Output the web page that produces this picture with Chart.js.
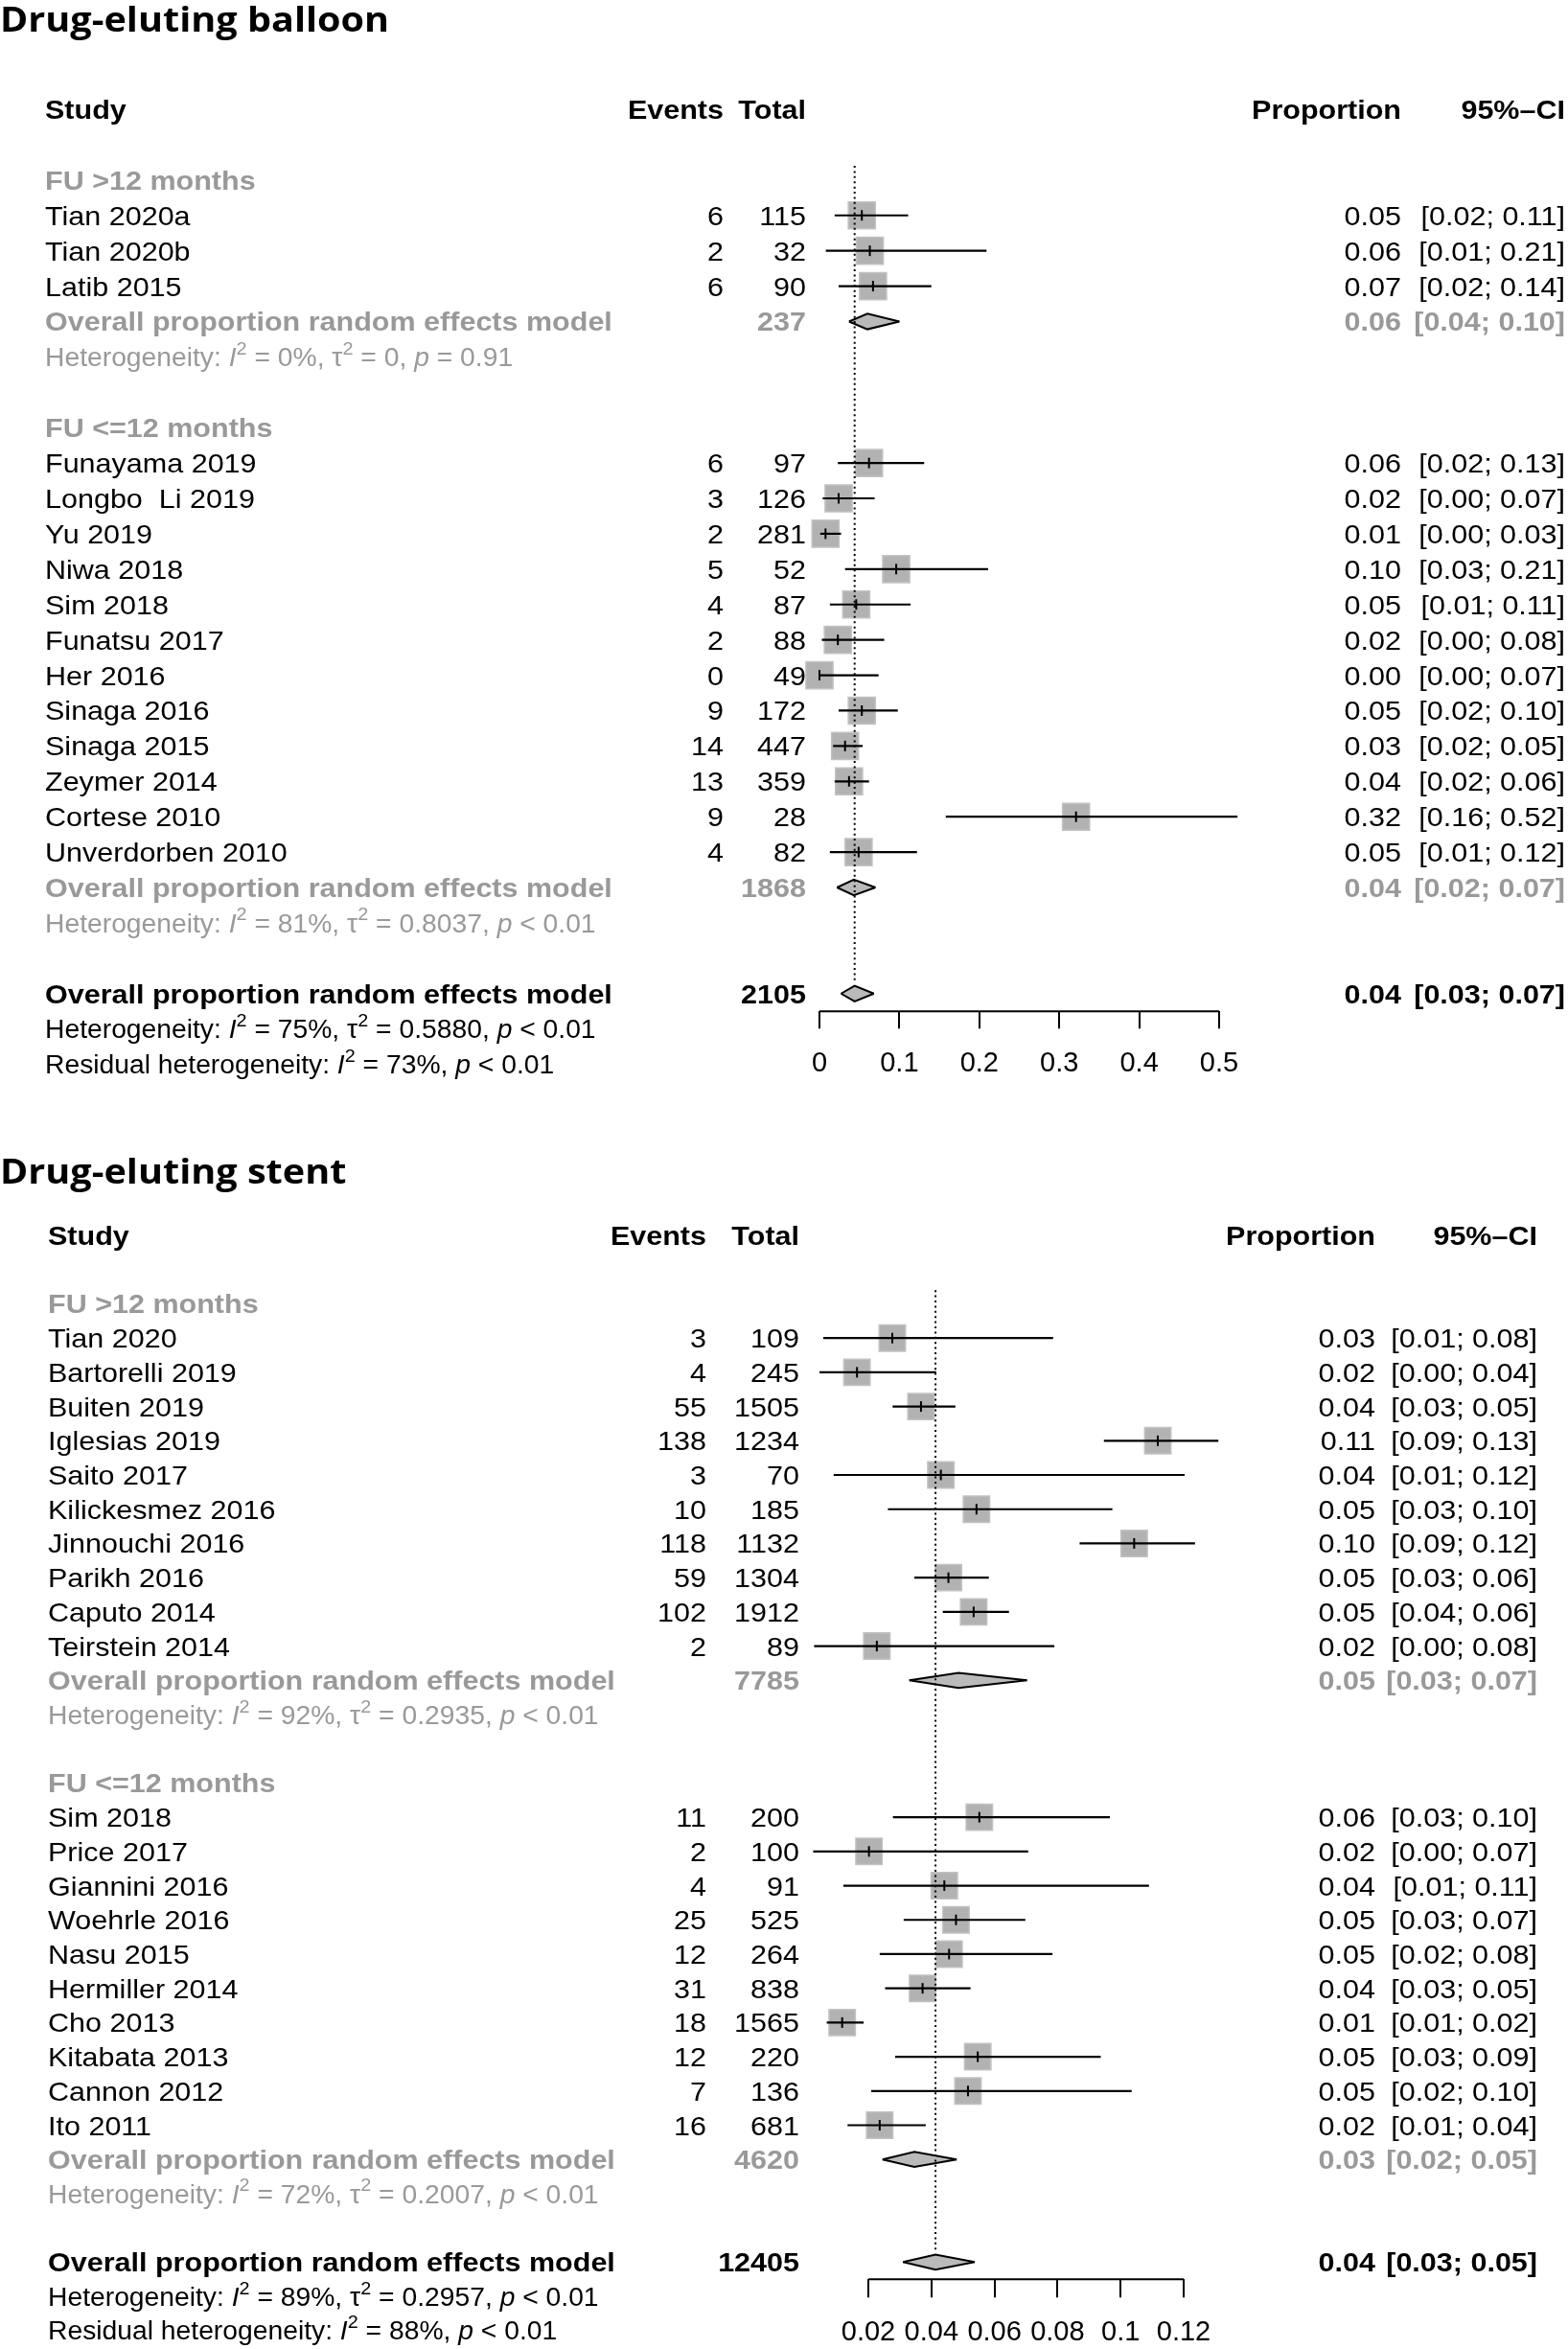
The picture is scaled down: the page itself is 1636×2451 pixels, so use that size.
<!DOCTYPE html>
<html>
<head>
<meta charset="utf-8">
<script src="https://cdn.jsdelivr.net/npm/chart.js@4.4.1/dist/chart.umd.min.js"></script>
<style>
  html, body { margin: 0; padding: 0; background: #fff; overflow: hidden; }
  canvas { display: block; }
</style>
</head>
<body>
<canvas id="balloon" width="1636" height="1146"></canvas>
<canvas id="stent" width="1636" height="1324"></canvas>
<script>
// ---------- Drug-eluting balloon ----------
const balloonGroups = ['FU >12 months', 'FU <=12 months'];
const balloonGroupSize = [3, 12];
const balloonStudies = ['Tian 2020a', 'Tian 2020b', 'Latib 2015', 'Funayama 2019', 'Longbo  Li 2019', 'Yu 2019',
  'Niwa 2018', 'Sim 2018', 'Funatsu 2017', 'Her 2016', 'Sinaga 2016', 'Sinaga 2015', 'Zeymer 2014',
  'Cortese 2010', 'Unverdorben 2010'];
const balloonEvents = [6, 2, 6, 6, 3, 2, 5, 4, 2, 0, 9, 14, 13, 9, 4];
const balloonTotals = [115, 32, 90, 97, 126, 281, 52, 87, 88, 49, 172, 447, 359, 28, 82];
const balloonEst = [0.053, 0.063, 0.067, 0.062, 0.024, 0.0076, 0.096, 0.046, 0.023, 0, 0.053, 0.032, 0.037, 0.321, 0.049];
const balloonLo = [0.019, 0.008, 0.024, 0.023, 0.004, 0.001, 0.032, 0.013, 0.003, 0, 0.024, 0.017, 0.019, 0.158, 0.013];
const balloonHi = [0.111, 0.209, 0.140, 0.131, 0.069, 0.027, 0.211, 0.114, 0.081, 0.074, 0.098, 0.054, 0.062, 0.523, 0.122];
const balloonSubTotals = [237, 1868];
const balloonSubEst = [0.060, 0.043];
const balloonSubLo = [0.037, 0.022];
const balloonSubHi = [0.100, 0.070];
const balloonSubI2 = ['0%', '81%'];
const balloonSubTau2 = ['0', '0.8037'];
const balloonSubP = ['= 0.91', '< 0.01'];
const balloonOverall = [2105, 0.044, 0.027, 0.068];   // total, est, lower, upper
const balloonOverallHet = ['75%', '0.5880', '< 0.01'];
const balloonResidual = ['73%', '< 0.01'];
const balloonTicks = [0, 0.1, 0.2, 0.3, 0.4, 0.5];
const balloonTickLabels = ['0', '0.1', '0.2', '0.3', '0.4', '0.5'];

// ---------- Drug-eluting stent ----------
const stentGroups = ['FU >12 months', 'FU <=12 months'];
const stentGroupSize = [10, 10];
const stentStudies = ['Tian 2020', 'Bartorelli 2019', 'Buiten 2019', 'Iglesias 2019', 'Saito 2017', 'Kilickesmez 2016',
  'Jinnouchi 2016', 'Parikh 2016', 'Caputo 2014', 'Teirstein 2014', 'Sim 2018', 'Price 2017', 'Giannini 2016',
  'Woehrle 2016', 'Nasu 2015', 'Hermiller 2014', 'Cho 2013', 'Kitabata 2013', 'Cannon 2012', 'Ito 2011'];
const stentEvents = [3, 4, 55, 138, 3, 10, 118, 59, 102, 2, 11, 2, 4, 25, 12, 31, 18, 12, 7, 16];
const stentTotals = [109, 245, 1505, 1234, 70, 185, 1132, 1304, 1912, 89, 200, 100, 91, 525, 264, 838, 1565, 220, 136, 681];
const stentEst = [0.0276, 0.0164, 0.0367, 0.1118, 0.043, 0.0543, 0.1043, 0.0454, 0.0534, 0.0227,
  0.0552, 0.0202, 0.0441, 0.0478, 0.0456, 0.0372, 0.0117, 0.0547, 0.0516, 0.0236];
const stentLo = [0.0057, 0.0045, 0.0277, 0.0947, 0.009, 0.0262, 0.087, 0.0346, 0.0436, 0.0028,
  0.0278, 0.0025, 0.0121, 0.0312, 0.0236, 0.0253, 0.0068, 0.0285, 0.0209, 0.0134];
const stentHi = [0.0786, 0.0415, 0.0476, 0.131, 0.1203, 0.0974, 0.1236, 0.0582, 0.0646, 0.079,
  0.0966, 0.0707, 0.109, 0.0698, 0.0784, 0.0524, 0.0185, 0.0937, 0.1035, 0.0382];
const stentSubTotals = [7785, 4620];
const stentSubEst = [0.0486, 0.0346];
const stentSubLo = [0.033, 0.0245];
const stentSubHi = [0.0703, 0.048];
const stentSubI2 = ['92%', '72%'];
const stentSubTau2 = ['0.2935', '0.2007'];
const stentSubP = ['< 0.01', '< 0.01'];
const stentOverall = [12405, 0.0413, 0.031, 0.0537];
const stentOverallHet = ['89%', '0.2957', '< 0.01'];
const stentResidual = ['88%', '< 0.01'];
const stentTicks = [0.02, 0.04, 0.06, 0.08, 0.1, 0.12];
const stentTickLabels = ['0.02', '0.04', '0.06', '0.08', '0.1', '0.12'];

// ---------- drawing ----------
const FONT = '"Liberation Sans", Arial, Helvetica, sans-serif';
const TITLE_FONT = '"Open Sans", "Noto Sans", sans-serif';
const BODY = 28;
const SX = 1.09;          // the figure is slightly wider than tall
const HET = 27;           // heterogeneity lines are set a little smaller
const HET_SX = 1.047;
const BLACK = '#000000';
const GREY = '#999999';

function put(ctx, str, x, y, align, weight, color) {
  ctx.save();
  ctx.font = `${weight} ${BODY}px ${FONT}`;
  ctx.fillStyle = color;
  ctx.textAlign = align;
  ctx.textBaseline = 'alphabetic';
  ctx.translate(x, y + BODY * 0.358);
  ctx.scale(SX, 1);
  ctx.fillText(str, 0, 0);
  ctx.restore();
}

function rich(ctx, segs, x, y, color) {
  let cx = x;
  segs.forEach(([t, kind]) => {
    const size = kind === 's' ? HET * 0.7 : HET;
    const style = kind === 'i' ? 'italic ' : '';
    const dy = kind === 's' ? -HET * 0.45 : 0;
    ctx.save();
    ctx.font = `${style}400 ${size}px ${FONT}`;
    ctx.fillStyle = color;
    ctx.textAlign = 'left';
    ctx.textBaseline = 'alphabetic';
    ctx.translate(cx, y + HET * 0.358 + dy);
    ctx.scale(HET_SX, 1);
    ctx.fillText(t, 0, 0);
    cx += ctx.measureText(t).width * HET_SX;
    ctx.restore();
  });
}

const hetSegs = (i2, tau2, p) => [['Heterogeneity: ', 'n'], ['I', 'i'], ['2', 's'], [' = ' + i2 + ', \u03c4', 'n'],
  ['2', 's'], [' = ' + tau2 + ', ', 'n'], ['p', 'i'], [' ' + p, 'n']];
const residSegs = (i2, p) => [['Residual heterogeneity: ', 'n'], ['I', 'i'], ['2', 's'], [' = ' + i2 + ', ', 'n'],
  ['p', 'i'], [' ' + p, 'n']];
const ciText = (lo, hi) => `[${lo.toFixed(2)}; ${hi.toFixed(2)}]`;

function layoutRows(groupSize) {
  const studyRow = [], groupRow = [], subRow = [];
  let r = 2;
  groupSize.forEach(n => {
    groupRow.push(r++);
    for (let k = 0; k < n; k++) studyRow.push(r++);
    subRow.push(r);
    r += 3;
  });
  return { studyRow, groupRow, subRow, overallRow: r };
}

function drawTexts(chart, p, L, rows) {
  const ctx = chart.ctx;
  const yOf = r => chart.scales.y.getPixelForValue(r);

  ctx.save();
  ctx.font = `700 ${L.titleSize}px ${TITLE_FONT}`;
  ctx.fillStyle = BLACK;
  ctx.textAlign = 'left';
  ctx.textBaseline = 'alphabetic';
  ctx.translate(0, L.titleY);
  ctx.scale(1.1, 1);
  ctx.fillText(p.title, 0, 0);
  ctx.restore();

  const h = yOf(0);
  put(ctx, 'Study', L.nameX, h, 'left', 700, BLACK);
  put(ctx, 'Events', L.eventsR, h, 'right', 700, BLACK);
  put(ctx, 'Total', L.totalR, h, 'right', 700, BLACK);
  put(ctx, 'Proportion', L.propR, h, 'right', 700, BLACK);
  put(ctx, '95%\u2013CI', L.ciR, h, 'right', 700, BLACK);

  p.studies.forEach((s, i) => {
    const y = yOf(rows.studyRow[i]);
    put(ctx, s, L.nameX, y, 'left', 400, BLACK);
    put(ctx, String(p.events[i]), L.eventsR, y, 'right', 400, BLACK);
    put(ctx, String(p.totals[i]), L.totalR, y, 'right', 400, BLACK);
    put(ctx, p.est[i].toFixed(2), L.propR, y, 'right', 400, BLACK);
    put(ctx, ciText(p.lo[i], p.hi[i]), L.ciR, y, 'right', 400, BLACK);
  });

  p.groups.forEach((g, k) => {
    put(ctx, g, L.nameX, yOf(rows.groupRow[k]), 'left', 700, GREY);
    const y = yOf(rows.subRow[k]);
    put(ctx, 'Overall proportion random effects model', L.nameX, y, 'left', 700, GREY);
    put(ctx, String(p.subTotals[k]), L.totalR, y, 'right', 700, GREY);
    put(ctx, p.subEst[k].toFixed(2), L.propR, y, 'right', 700, GREY);
    put(ctx, ciText(p.subLo[k], p.subHi[k]), L.ciR, y, 'right', 700, GREY);
    rich(ctx, hetSegs(p.subI2[k], p.subTau2[k], p.subP[k]), L.nameX, yOf(rows.subRow[k] + 1), GREY);
  });

  const o = rows.overallRow;
  const [tot, est, lo, hi] = p.overall;
  put(ctx, 'Overall proportion random effects model', L.nameX, yOf(o), 'left', 700, BLACK);
  put(ctx, String(tot), L.totalR, yOf(o), 'right', 700, BLACK);
  put(ctx, est.toFixed(2), L.propR, yOf(o), 'right', 700, BLACK);
  put(ctx, ciText(lo, hi), L.ciR, yOf(o), 'right', 700, BLACK);
  rich(ctx, hetSegs(...p.overallHet), L.nameX, yOf(o + 1), BLACK);
  rich(ctx, residSegs(...p.residual), L.nameX, yOf(o + 2), BLACK);
}

function diamond(row, est, lo, hi, half) {
  const base = { type: 'line', borderColor: BLACK, borderWidth: 2, pointRadius: 0, tension: 0, clip: false, order: 2 };
  return [
    Object.assign({}, base, { data: [{ x: lo, y: row }, { x: est, y: row - half }, { x: hi, y: row }],
      fill: '+1', backgroundColor: '#bababa' }),
    Object.assign({}, base, { data: [{ x: lo, y: row }, { x: est, y: row + half }, { x: hi, y: row }], fill: false })
  ];
}

function buildPanel(id, p, L) {
  const rows = layoutRows(p.groupSize);
  const pts = p.est.map((v, i) => ({ x: v, y: rows.studyRow[i] }));
  const ref = p.overall[1];
  const axisRow = rows.overallRow + 0.5;

  const datasets = [];
  datasets.push({ type: 'scatter', data: pts, pointStyle: 'line', pointRotation: 90, pointRadius: 5.5,
    borderColor: BLACK, borderWidth: 2, clip: false, order: 0 });
  p.est.forEach((_, i) => {
    datasets.push({ type: 'line', data: [{ x: p.lo[i], y: rows.studyRow[i] }, { x: p.hi[i], y: rows.studyRow[i] }],
      borderColor: BLACK, borderWidth: 2.2, pointRadius: 0, clip: false, order: 1 });
  });
  p.subEst.forEach((v, k) => datasets.push(...diamond(rows.subRow[k], v, p.subLo[k], p.subHi[k], 0.22)));
  datasets.push(...diamond(rows.overallRow, p.overall[1], p.overall[2], p.overall[3], 0.22));
  datasets.push({ type: 'line', data: [{ x: ref, y: 1.6 }, { x: ref, y: rows.overallRow - 0.35 }],
    borderColor: BLACK, borderWidth: 2, borderDash: [2, 3.4], pointRadius: 0, clip: false, order: 3 });
  // axis line spans only the tick range
  datasets.push({ type: 'line', data: [{ x: p.ticks[0], y: axisRow }, { x: p.ticks[p.ticks.length - 1], y: axisRow }],
    borderColor: BLACK, borderWidth: 2, pointRadius: 0, clip: false, order: 1 });
  datasets.push({ type: 'scatter', data: pts, pointStyle: 'rect', pointRadius: L.square,
    backgroundColor: '#b2b2b2', borderColor: '#c2c2c2', borderWidth: 1.5, clip: false, order: 4 });

  new Chart(document.getElementById(id), {
    type: 'scatter',
    data: { datasets },
    options: {
      responsive: false,
      animation: false,
      devicePixelRatio: 1,
      events: [],
      layout: { autoPadding: false, padding: { left: L.leftPx, right: 1636 - L.rightPx, top: 0, bottom: 0 } },
      plugins: { legend: { display: false }, tooltip: { enabled: false }, filler: { drawTime: 'beforeDatasetsDraw' } },
      scales: {
        x: {
          type: 'linear', position: 'bottom', min: L.xmin, max: L.xmax,
          afterBuildTicks: s => { s.ticks = p.ticks.map(v => ({ value: v })); },
          ticks: { callback: (v, i) => p.tickLabels[i], font: { family: FONT, size: 29 }, color: BLACK,
            padding: L.tickPad, autoSkip: false, maxRotation: 0 },
          grid: { display: true, drawOnChartArea: false, drawTicks: true, tickLength: L.tickLen, color: BLACK, lineWidth: 2 },
          border: { display: false }
        },
        y: { type: 'linear', display: false, reverse: true, min: L.ymin, max: axisRow }
      }
    },
    plugins: [{ id: 'forestText', afterDraw: chart => drawTexts(chart, p, L, rows) }]
  });
}

buildPanel('balloon', {
  title: 'Drug-eluting balloon', groups: balloonGroups, groupSize: balloonGroupSize, studies: balloonStudies,
  events: balloonEvents, totals: balloonTotals, est: balloonEst, lo: balloonLo, hi: balloonHi,
  subTotals: balloonSubTotals, subEst: balloonSubEst, subLo: balloonSubLo, subHi: balloonSubHi,
  subI2: balloonSubI2, subTau2: balloonSubTau2, subP: balloonSubP, overall: balloonOverall,
  overallHet: balloonOverallHet, residual: balloonResidual, ticks: balloonTicks, tickLabels: balloonTickLabels
}, { titleSize: 36, titleY: 33, xmin: -0.05, xmax: 0.55, leftPx: 813.3, rightPx: 1313.7, ymin: -3.089,
  nameX: 47, eventsR: 755, totalR: 841, propR: 1462, ciR: 1633, square: 19.9, tickLen: 18, tickPad: 19 });

buildPanel('stent', {
  title: 'Drug-eluting stent', groups: stentGroups, groupSize: stentGroupSize, studies: stentStudies,
  events: stentEvents, totals: stentTotals, est: stentEst, lo: stentLo, hi: stentHi,
  subTotals: stentSubTotals, subEst: stentSubEst, subLo: stentSubLo, subHi: stentSubHi,
  subI2: stentSubI2, subTau2: stentSubTau2, subP: stentSubP, overall: stentOverall,
  overallHet: stentOverallHet, residual: stentResidual, ticks: stentTicks, tickLabels: stentTickLabels
}, { titleSize: 36, titleY: 89, xmin: 0, xmax: 0.14, leftPx: 840.2, rightPx: 1300.8, ymin: -4.006,
  nameX: 50, eventsR: 737, totalR: 834, propR: 1435, ciR: 1604, square: 19.4, tickLen: 19, tickPad: 19 });
</script>
</body>
</html>
